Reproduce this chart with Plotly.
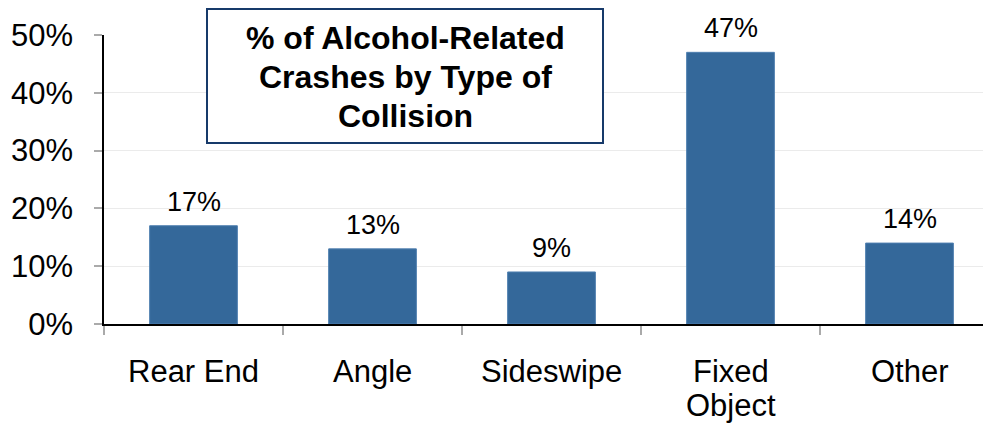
import plotly.graph_objects as go

categories = ["Rear End", "Angle", "Sideswipe", "Fixed<br>Object", "Other"]
values = [17, 13, 9, 47, 14]
labels = ["17%", "13%", "9%", "47%", "14%"]
tick_vals = [0, 10, 20, 30, 40, 50]
tick_text = ["0%", "10%", "20%", "30%", "40%", "50%"]
title_lines = ["% of Alcohol-Related", "Crashes by Type of", "Collision"]

FONT = "Liberation Sans, Arial"
PW, PH = 895, 289  # plot area size in px

fig = go.Figure()
fig.add_trace(go.Bar(
    x=list(range(len(categories))), y=values,
    marker=dict(color="#34689A", line=dict(color="#4F7FB0", width=1)),
    width=0.49, hoverinfo="skip",
))

for i, (v, t) in enumerate(zip(values, labels)):
    fig.add_annotation(x=i, y=v, text=t, showarrow=False, yanchor="bottom",
                       yshift=7, font=dict(family=FONT, size=27, color="black"))

# category labels (custom line spacing)
for i, cat in enumerate(categories):
    for j, line in enumerate(cat.split("<br>")):
        fig.add_annotation(x=i, xref="x", y=0, yref="paper", text=line,
                           showarrow=False, yanchor="middle", xanchor="center",
                           yshift=-47 - 34 * j,
                           font=dict(family=FONT, size=31, color="black"))

# title box
fig.add_shape(type="rect", xref="paper", yref="paper",
              x0=(207 - 104) / PW, x1=(603 - 104) / PW,
              y0=(324 - 143) / PH, y1=(324 - 9) / PH,
              line=dict(color="#173A6A", width=2), fillcolor="white", layer="above")
for j, line in enumerate(title_lines):
    fig.add_annotation(xref="paper", yref="paper", x=(405 - 104) / PW,
                       y=(324 - 38 - 39 * j) / PH, text="<b>" + line + "</b>",
                       showarrow=False, xanchor="center", yanchor="middle",
                       font=dict(family=FONT, size=32, color="black"))

fig.update_layout(
    width=991, height=423,
    margin=dict(l=96, r=0, t=27, b=107),
    plot_bgcolor="white", paper_bgcolor="white",
    showlegend=False,
    font=dict(family=FONT, color="black"),
    xaxis=dict(
        range=[-0.5, 4.5], tickmode="array",
        tickvals=list(range(len(categories))), ticktext=["" for _ in categories],
        showgrid=False, showline=True, linecolor="black", linewidth=1.5,
        ticks="",
        minor=dict(tickmode="array", tickvals=[-0.5, 0.5, 1.5, 2.5, 3.5, 4.5],
                   ticks="outside", ticklen=9, tickcolor="#AAAAAA", tickwidth=1.5),
        zeroline=False, fixedrange=True,
    ),
    yaxis=dict(
        range=[0, 50], tickmode="array", tickvals=tick_vals, ticktext=tick_text,
        showgrid=True, gridcolor="#EBEBEB", gridwidth=1,
        showline=True, linecolor="black", linewidth=1.5,
        ticks="outside", ticklen=8, tickcolor="#AAAAAA", tickwidth=1.5,
        tickfont=dict(size=31), ticklabelstandoff=15,
        zeroline=False, fixedrange=True,
    ),
)

fig.write_html("out.html")
